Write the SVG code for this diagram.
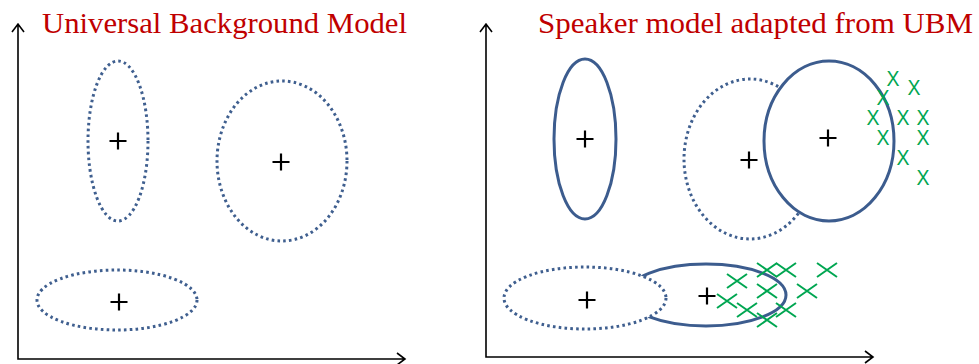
<svg xmlns="http://www.w3.org/2000/svg" width="979" height="364" viewBox="0 0 979 364">
<defs>
<style>
.title{font-family:"Liberation Serif","DejaVu Serif",serif;font-size:30px;fill:#C00000}
.axis{stroke:#000;stroke-width:1.6;fill:none}
.dot{fill:none;stroke:#3F5F8F;stroke-width:3;stroke-dasharray:2.6 3.2}
.dotw{fill:#fff;stroke:#3F5F8F;stroke-width:3;stroke-dasharray:2.6 3.2}
.sol{fill:none;stroke:#3C5C8E;stroke-width:3}
.solw{fill:#fff;stroke:#3C5C8E;stroke-width:3}
.plus{stroke:#000;stroke-width:2.2;fill:none}
.gx{font-family:"Liberation Sans","DejaVu Sans",sans-serif;font-size:22px;fill:#00A651;text-anchor:middle}
.cx{stroke:#00A651;stroke-width:2;fill:none}
</style>
<path id="p" d="M-8.5 0H8.5M0 -8.5V8.5"/>
<path id="x" d="M-10 -7L10 7M-10 7L10 -7"/>
</defs>
<rect width="979" height="364" fill="#fff"/>
<g id="axes">
<path class="axis" d="M18 24V359H405M12 32L18 24L24 32M397 353L405 359L397 365"/>
<path class="axis" d="M486 24V357H873M480 32L486 24L492 32M865 351L873 357L865 363"/>
</g>
<g id="titles">
<text class="title" x="42" y="33" textLength="365" lengthAdjust="spacingAndGlyphs">Universal Background Model</text>
<text class="title" x="538" y="33" textLength="435" lengthAdjust="spacingAndGlyphs">Speaker model adapted from UBM</text>
</g>
<g id="ubm-left">
<ellipse class="dot" cx="118" cy="141" rx="30" ry="80"/>
<ellipse class="dot" cx="282" cy="161" rx="65" ry="80"/>
<ellipse class="dot" cx="117" cy="300" rx="80" ry="30"/>
<use href="#p" class="plus" x="118" y="141"/>
<use href="#p" class="plus" x="281" y="162"/>
<use href="#p" class="plus" x="119" y="302"/>
</g>
<g id="speaker-right">
<ellipse class="sol" cx="585" cy="139" rx="31" ry="80"/>
<ellipse class="dot" cx="750" cy="159" rx="66" ry="80"/>
<ellipse class="solw" cx="829" cy="141" rx="65" ry="80"/>
<ellipse class="sol" cx="706" cy="295" rx="80" ry="31"/>
<ellipse class="dotw" cx="585" cy="298" rx="81" ry="31"/>
<use href="#p" class="plus" x="585" y="139"/>
<use href="#p" class="plus" x="749" y="160"/>
<use href="#p" class="plus" x="828" y="138"/>
<use href="#p" class="plus" x="587" y="300"/>
<use href="#p" class="plus" x="707" y="296"/>
</g>
<g id="data-top">
<text class="gx" x="893" y="86" textLength="13" lengthAdjust="spacingAndGlyphs">X</text>
<text class="gx" x="914" y="95" textLength="13" lengthAdjust="spacingAndGlyphs">X</text>
<text class="gx" x="883" y="105" textLength="13" lengthAdjust="spacingAndGlyphs">X</text>
<text class="gx" x="873" y="125" textLength="13" lengthAdjust="spacingAndGlyphs">X</text>
<text class="gx" x="903" y="125" textLength="13" lengthAdjust="spacingAndGlyphs">X</text>
<text class="gx" x="923" y="125" textLength="13" lengthAdjust="spacingAndGlyphs">X</text>
<text class="gx" x="883" y="145" textLength="13" lengthAdjust="spacingAndGlyphs">X</text>
<text class="gx" x="923" y="145" textLength="13" lengthAdjust="spacingAndGlyphs">X</text>
<text class="gx" x="903" y="165" textLength="13" lengthAdjust="spacingAndGlyphs">X</text>
<text class="gx" x="923" y="185" textLength="13" lengthAdjust="spacingAndGlyphs">X</text>
</g>
<g id="data-bottom">
<use href="#x" class="cx" x="767" y="270"/>
<use href="#x" class="cx" x="786" y="270"/>
<use href="#x" class="cx" x="827" y="270"/>
<use href="#x" class="cx" x="737" y="281"/>
<use href="#x" class="cx" x="767" y="291"/>
<use href="#x" class="cx" x="807" y="291"/>
<use href="#x" class="cx" x="727" y="301"/>
<use href="#x" class="cx" x="747" y="310"/>
<use href="#x" class="cx" x="786" y="310"/>
<use href="#x" class="cx" x="767" y="320"/>
</g>
</svg>
